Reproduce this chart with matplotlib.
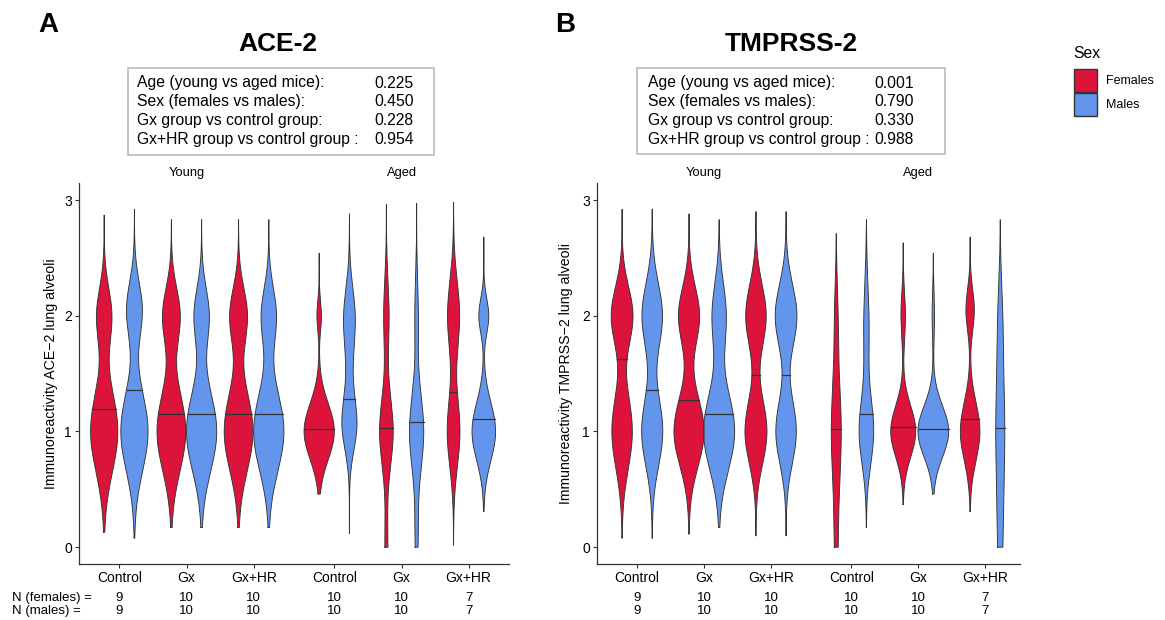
import numpy as np
import matplotlib.pyplot as plt
from matplotlib.patches import Rectangle
from matplotlib.transforms import blended_transform_factory

plt.rcParams['font.family'] = ['Liberation Sans', 'DejaVu Sans']

groups = ['Control', 'Gx', 'Gx+HR', 'Control', 'Gx', 'Gx+HR']
group_pos = [1, 2, 3, 4.2, 5.2, 6.2]
n_females = [9, 10, 10, 10, 10, 7]
n_males = [9, 10, 10, 10, 10, 7]

stat_labels = ['Age (young vs aged mice):', 'Sex (females vs males):',
               'Gx group vs control group:', 'Gx+HR group vs control group :']
ace2_pvalues = ['0.225', '0.450', '0.228', '0.954']
tmprss2_pvalues = ['0.001', '0.790', '0.330', '0.988']

# violin shapes:
# range = (lowest, highest) value, median line, and density bumps (centre, relative height, spread)
ace2_female_range = [(0.13, 2.87), (0.17, 2.83), (0.17, 2.83), (0.46, 2.54), (0.0, 2.96), (0.02, 2.98)]
ace2_female_median = [1.19, 1.15, 1.15, 1.02, 1.03, 1.34]
ace2_female_peaks = [
    [(1.0, 0.90, 0.35), (2.0, 0.50, 0.24)],
    [(1.0, 0.95, 0.34), (2.0, 0.58, 0.24)],
    [(1.0, 0.95, 0.34), (2.0, 0.58, 0.24)],
    [(1.0, 1.00, 0.24), (2.0, 0.15, 0.13)],
    [(1.0, 0.45, 0.30), (2.0, 0.18, 0.30), (0.0, 0.10, 0.30)],
    [(1.0, 0.42, 0.30), (2.0, 0.40, 0.30)],
]
ace2_male_range = [(0.08, 2.92), (0.17, 2.83), (0.17, 2.83), (0.12, 2.88), (0.0, 2.97), (0.31, 2.68)]
ace2_male_median = [1.36, 1.15, 1.15, 1.28, 1.08, 1.11]
ace2_male_peaks = [
    [(1.0, 0.90, 0.34), (2.05, 0.52, 0.24)],
    [(1.0, 1.00, 0.34), (2.0, 0.50, 0.24)],
    [(1.0, 1.00, 0.34), (2.0, 0.50, 0.24)],
    [(1.05, 0.45, 0.22), (1.5, 0.15, 0.30), (2.0, 0.35, 0.25)],
    [(1.0, 0.47, 0.32), (2.0, 0.12, 0.30), (0.1, 0.10, 0.30)],
    [(1.0, 0.78, 0.25), (2.0, 0.33, 0.15)],
]
tmprss2_female_range = [(0.08, 2.92), (0.115, 2.88), (0.1, 2.9), (0.0, 2.71), (0.37, 2.63), (0.31, 2.68)]
tmprss2_female_median = [1.63, 1.27, 1.49, 1.02, 1.04, 1.11]
tmprss2_female_peaks = [
    [(1.0, 0.68, 0.32), (2.0, 0.72, 0.25)],
    [(1.0, 1.00, 0.30), (2.0, 0.70, 0.25)],
    [(1.0, 0.73, 0.28), (2.0, 0.68, 0.27)],
    [(1.0, 0.33, 0.45), (2.0, 0.10, 0.30), (0.0, 0.10, 0.35)],
    [(1.0, 0.83, 0.22), (2.0, 0.15, 0.20)],
    [(1.0, 0.65, 0.25), (2.05, 0.28, 0.18)],
]
tmprss2_male_range = [(0.08, 2.92), (0.17, 2.83), (0.1, 2.9), (0.17, 2.83), (0.46, 2.54), (0.0, 2.83)]
tmprss2_male_median = [1.36, 1.15, 1.49, 1.15, 1.02, 1.03]
tmprss2_male_peaks = [
    [(1.0, 0.70, 0.30), (2.0, 0.68, 0.28)],
    [(1.0, 1.03, 0.33), (2.0, 0.47, 0.28)],
    [(1.0, 0.68, 0.28), (2.0, 0.72, 0.27)],
    [(1.0, 0.48, 0.28), (1.9, 0.18, 0.35)],
    [(1.0, 1.02, 0.22), (2.0, 0.08, 0.20)],
    [(1.0, 0.30, 0.60), (2.0, 0.10, 0.30), (0.0, 0.10, 0.35)],
]

RED = '#DC143C'
BLUE = '#6495ED'
EDGE = '#333333'
HALF = 0.225   # max half width of one violin (dodge 0.45)


def density(y, peaks):
    d = np.zeros_like(y)
    for mu, h, s in peaks:
        d += h * np.exp(-0.5 * ((y - mu) / s) ** 2)
    return d


def draw_violin(ax, xc, rng, med, peaks, color):
    y = np.linspace(rng[0], rng[1], 300)
    w = HALF * density(y, peaks)
    ax.fill_betweenx(y, xc - w, xc + w, facecolor=color, edgecolor='none', zorder=2)
    xs = np.concatenate([xc - w, (xc + w)[::-1], [xc - w[0]]])
    ys = np.concatenate([y, y[::-1], [y[0]]])
    ax.plot(xs, ys, color=EDGE, lw=0.65, zorder=3)
    wm = HALF * density(np.array([med]), peaks)[0]
    ax.plot([xc - wm, xc + wm], [med, med], color=EDGE, lw=0.9, zorder=4)


fig = plt.figure(figsize=(11.65, 6.2), dpi=100)
W, H = 1165, 620

panels = [
    dict(rect=(79, 183, 509, 564), xmax=6.8, title='ACE-2', tag='A', tag_x=48, title_x=278,
         ylabel='Immunoreactivity ACE\u22122 lung alveoli', ylab_x=58,
         f=(ace2_female_range, ace2_female_median, ace2_female_peaks),
         m=(ace2_male_range, ace2_male_median, ace2_male_peaks),
         box=(128, 68, 434, 155), text_x=137, val_x=374, pvals=ace2_pvalues),
    dict(rect=(597, 183, 1020, 564), xmax=6.72, title='TMPRSS-2', tag='B', tag_x=565, title_x=791,
         ylabel='Immunoreactivity TMPRSS\u22122 lung alveoli', ylab_x=573,
         f=(tmprss2_female_range, tmprss2_female_median, tmprss2_female_peaks),
         m=(tmprss2_male_range, tmprss2_male_median, tmprss2_male_peaks),
         box=(637, 68, 945, 154), text_x=648, val_x=874, pvals=tmprss2_pvalues),
]

for p in panels:
    x0, y0, x1, y1 = p['rect']
    ax = fig.add_axes([x0 / W, 1 - y1 / H, (x1 - x0) / W, (y1 - y0) / H])
    fr, fm, fp = p['f']
    mr, mm, mp = p['m']
    for i, xc in enumerate(group_pos):
        draw_violin(ax, xc - HALF, fr[i], fm[i], fp[i], RED)
        draw_violin(ax, xc + HALF, mr[i], mm[i], mp[i], BLUE)
    ax.set_xlim(0.4, p['xmax'])
    ax.set_ylim(-0.145, 3.147)
    ax.set_yticks([0, 1, 2, 3])
    ax.set_xticks(group_pos)
    ax.set_xticklabels(groups)
    for s in ['top', 'right']:
        ax.spines[s].set_visible(False)
    for s in ['left', 'bottom']:
        ax.spines[s].set_color(EDGE)
        ax.spines[s].set_linewidth(0.9)
    ax.tick_params(length=3, width=0.8, color=EDGE, labelsize=10, pad=2)
    ax.set_ylabel(p['ylabel'], fontsize=10.2)
    ax.yaxis.set_label_coords((p['ylab_x'] - x0) / (x1 - x0), 0.5)

    # group strip labels
    tr = blended_transform_factory(ax.transData, fig.transFigure)
    ax.text(np.mean(group_pos[:3]), 1 - 173 / H, 'Young', transform=tr, ha='center', va='center', fontsize=9.3)
    ax.text(np.mean(group_pos[3:]), 1 - 173 / H, 'Aged', transform=tr, ha='center', va='center', fontsize=9.3)

    # sample sizes under the axis
    for i, xc in enumerate(group_pos):
        ax.text(xc, 1 - 598 / H, str(n_females[i]), transform=tr, ha='center', va='center', fontsize=9.5)
        ax.text(xc, 1 - 611 / H, str(n_males[i]), transform=tr, ha='center', va='center', fontsize=9.5)

    # titles and panel tags
    fig.text(p['title_x'] / W, 1 - 44 / H, p['title'], ha='center', va='center',
             fontsize=19, fontweight='bold')
    fig.text(p['tag_x'] / W, 1 - 25 / H, p['tag'], ha='center', va='center',
             fontsize=20, fontweight='bold')

    # statistics box
    bx0, by0, bx1, by1 = p['box']
    fig.patches.append(Rectangle((bx0 / W, 1 - by1 / H), (bx1 - bx0) / W, (by1 - by0) / H,
                                 transform=fig.transFigure, facecolor='white',
                                 edgecolor='#BBBBBB', lw=1.2))
    for j, lab in enumerate(stat_labels):
        yy = 1 - (83 + 18.7 * j) / H
        fig.text(p['text_x'] / W, yy, lab, ha='left', va='center', fontsize=11.3)
        fig.text(p['val_x'] / W, yy, p['pvals'][j], ha='left', va='center', fontsize=11.3)

fig.text(12 / W, 1 - 598 / H, 'N (females) =', ha='left', va='center', fontsize=9.5)
fig.text(12 / W, 1 - 611 / H, 'N (males) =', ha='left', va='center', fontsize=9.5)

# legend
fig.text(1073 / W, 1 - 54 / H, 'Sex', ha='left', va='center', fontsize=11.3)
for j, (lab, col) in enumerate([('Females', RED), ('Males', BLUE)]):
    ky = 69 + 24 * j
    fig.patches.append(Rectangle((1074 / W, 1 - (ky + 23) / H), 23 / W, 23 / H,
                                 transform=fig.transFigure, facecolor=col,
                                 edgecolor=EDGE, lw=1.0))
    fig.text(1106 / W, 1 - (ky + 12) / H, lab, ha='left', va='center', fontsize=9)

fig.savefig('out.png', dpi=100)
